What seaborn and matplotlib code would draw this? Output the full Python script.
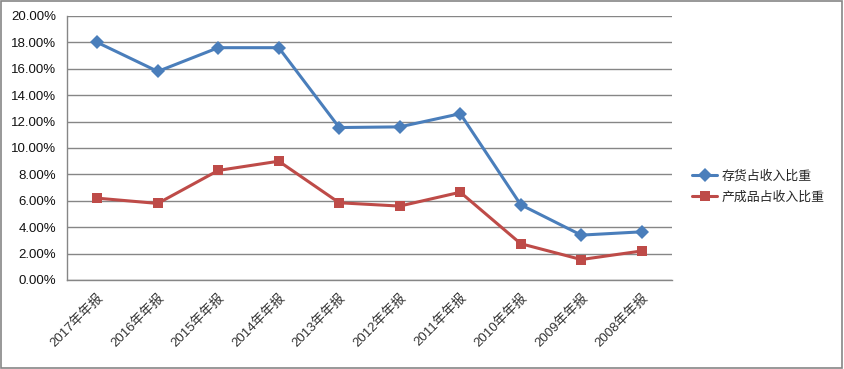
import pandas as pd
import matplotlib
matplotlib.use("Agg")
import matplotlib.pyplot as plt
import seaborn as sns
from matplotlib.ticker import PercentFormatter, FixedLocator

# chart values (percent)
years = ['2017年年报', '2016年年报', '2015年年报', '2014年年报', '2013年年报',
         '2012年年报', '2011年年报', '2010年年报', '2009年年报', '2008年年报']
inventory_ratio = [18.0, 15.8, 17.6, 17.6, 11.55, 11.6, 12.6, 5.7, 3.4, 3.65]
product_ratio = [6.2, 5.8, 8.3, 9.0, 5.85, 5.6, 6.65, 2.75, 1.55, 2.2]
series_names = ['存货占收入比重', '产成品占收入比重']

df = pd.DataFrame({
    'year': years * 2,
    'value': inventory_ratio + product_ratio,
    'series': [series_names[0]] * len(years) + [series_names[1]] * len(years),
})
df['pos'] = list(range(len(years))) * 2

sns.set_style('white')
plt.rcParams['font.family'] = ['Liberation Sans', 'Noto Sans CJK SC', 'DejaVu Sans']

fig = plt.figure(figsize=(8.44, 3.69), dpi=100)
ax = fig.add_axes([67 / 844, 1 - 280 / 369, (672 - 67) / 844, (280 - 16) / 369])

palette = {series_names[0]: '#4A7EBB', series_names[1]: '#BE4B48'}
sns.lineplot(data=df, x='pos', y='value', hue='series', style='series',
             markers={series_names[0]: 'D', series_names[1]: 's'},
             dashes=False, palette=palette, linewidth=2.2,
             markersize=7.5, markeredgewidth=0, ax=ax, legend=True)

ax.set_xlim(-0.5, len(years) - 0.5)
ax.set_ylim(0, 20)
ax.yaxis.set_major_locator(FixedLocator(range(0, 21, 2)))
ax.yaxis.set_major_formatter(PercentFormatter(decimals=2))
ax.set_xticks(range(len(years)))
ax.set_xticklabels(years, rotation=45, ha='right', rotation_mode='anchor',
                   fontsize=9.5, color='#333333')
ax.set_xticks([i - 0.5 for i in range(len(years) + 1)], minor=True)
ax.tick_params(axis='x', which='major', length=0, pad=8)
ax.tick_params(axis='x', which='minor', length=5, color='#868686', width=1)
ax.tick_params(axis='y', length=5, color='#868686', width=1, labelsize=9.5,
               labelcolor='#111111', pad=3)
ax.set_xlabel('')
ax.set_ylabel('')

ax.grid(axis='y', color='#868686', linewidth=1)
ax.set_axisbelow(True)
for side in ['top', 'right']:
    ax.spines[side].set_visible(False)
for side in ['left', 'bottom']:
    ax.spines[side].set_color('#868686')
    ax.spines[side].set_linewidth(1)

handles, labels = ax.get_legend_handles_labels()
ax.get_legend().remove()
fig.legend(handles, labels, loc='upper left', bbox_to_anchor=(680 / 844, 1 - 158 / 369),
           frameon=False, fontsize=9.3, handlelength=2.0, handletextpad=0.3,
           labelspacing=0.7)

# outer chart border
fig.patches.append(plt.Rectangle((0.001, 0.002), 0.997, 0.995, transform=fig.transFigure,
                                 fill=False, edgecolor='#868686', linewidth=1.2))

fig.savefig('out.png', dpi=100)
